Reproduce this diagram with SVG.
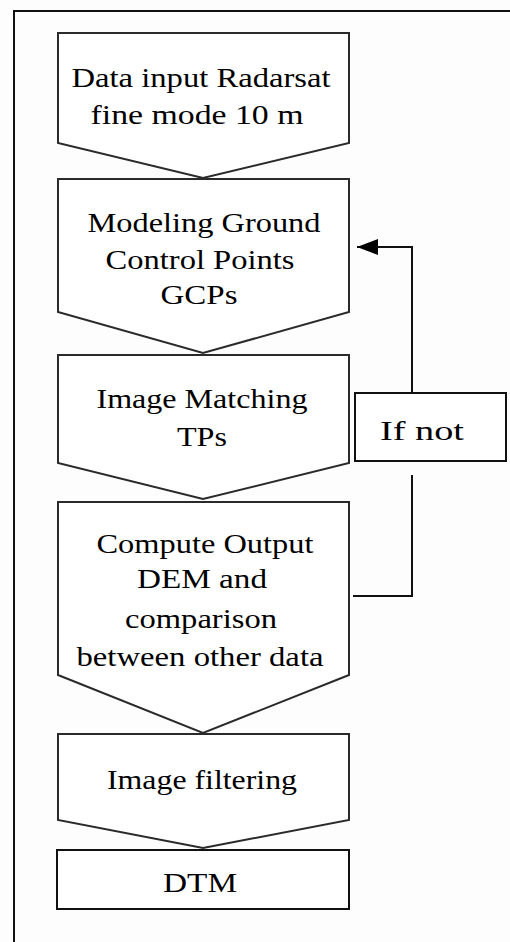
<svg xmlns="http://www.w3.org/2000/svg" width="510" height="942" viewBox="0 0 510 942">
<style>
.bg{fill:#fdfdfd}
.frame{fill:none;stroke:#111;stroke-width:2}
.step{fill:#fff;stroke:#2a2a2a;stroke-width:2;stroke-linejoin:miter}
.box{fill:#fff;stroke:#111;stroke-width:2}
.t{font-family:"Liberation Serif","Times New Roman",serif;font-size:28px;fill:#000;text-anchor:middle}
.conn{fill:none;stroke:#111;stroke-width:2}
</style>
<defs>
<marker id="arr" markerWidth="22" markerHeight="16" refX="21" refY="8" orient="auto" markerUnits="userSpaceOnUse">
<path d="M0,0 L21,8 L0,16 Z" fill="#000"/>
</marker>
</defs>
<rect class="bg" x="0" y="0" width="510" height="942"/>
<rect class="frame" x="14" y="11" width="520" height="950"/>

<g id="n1">
<polygon class="step" points="58,33 349,33 349,143 203,178 58,143"/>
<text class="t" x="201" y="87" textLength="259" lengthAdjust="spacingAndGlyphs">Data input Radarsat</text>
<text class="t" x="197" y="124" textLength="213" lengthAdjust="spacingAndGlyphs">fine mode 10 m</text>
</g>
<g id="n2">
<polygon class="step" points="58,179 349,179 349,312 203,353 58,312"/>
<text class="t" x="204" y="232" textLength="233" lengthAdjust="spacingAndGlyphs">Modeling Ground</text>
<text class="t" x="200" y="269" textLength="189" lengthAdjust="spacingAndGlyphs">Control Points</text>
<text class="t" x="199" y="304" textLength="77" lengthAdjust="spacingAndGlyphs">GCPs</text>
</g>
<g id="n3">
<polygon class="step" points="58,355 349,355 349,463 203,499 58,463"/>
<text class="t" x="202" y="408" textLength="211" lengthAdjust="spacingAndGlyphs">Image Matching</text>
<text class="t" x="202" y="446" textLength="50" lengthAdjust="spacingAndGlyphs">TPs</text>
</g>
<g id="n4">
<polygon class="step" points="58,502 349,502 349,675 203,733 58,675"/>
<text class="t" x="205" y="553" textLength="217" lengthAdjust="spacingAndGlyphs">Compute Output</text>
<text class="t" x="202" y="588" textLength="130" lengthAdjust="spacingAndGlyphs">DEM and</text>
<text class="t" x="201" y="628" textLength="152" lengthAdjust="spacingAndGlyphs">comparison</text>
<text class="t" x="200" y="666" textLength="247" lengthAdjust="spacingAndGlyphs">between other data</text>
</g>
<g id="n5">
<polygon class="step" points="58,734 349,734 349,820 203,848 58,820"/>
<text class="t" x="202" y="789" textLength="190" lengthAdjust="spacingAndGlyphs">Image filtering</text>
</g>
<g id="n6">
<rect class="box" x="57" y="850" width="292" height="59"/>
<text class="t" x="200" y="892" textLength="74" lengthAdjust="spacingAndGlyphs">DTM</text>
</g>
<g id="n7">
<rect class="box" x="355" y="393" width="151" height="68"/>
<text class="t" x="422" y="440" textLength="84" lengthAdjust="spacingAndGlyphs">If not</text>
</g>

<g id="connectors">
<polyline class="conn" points="412,475 412,596 353,596"/>
<polyline class="conn" points="412,393 412,247 357,247" marker-end="url(#arr)"/>
</g>
</svg>
